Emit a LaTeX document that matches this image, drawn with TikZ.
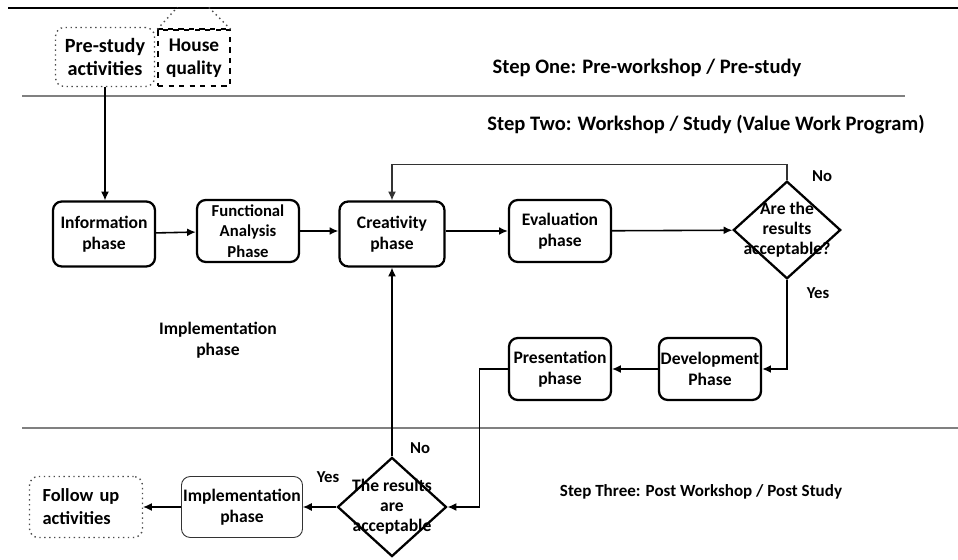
\documentclass[tikz,border=0pt]{standalone}
\usepackage{fontspec}
\setmainfont{Carlito}
\usetikzlibrary{shapes.geometric,arrows.meta,positioning}

\tikzset{
  phase/.style={draw, line width=1.3pt, rounded corners=5pt, align=center,
    minimum width=2.04cm, minimum height=1.3cm, inner sep=1pt,
    font=\fontsize{10}{12}\selectfont\bfseries},
  thinphase/.style={phase, line width=0.5pt, draw=black!80},
  softbox/.style={draw=black!70, dotted, thick, rounded corners=5pt, align=center,
    minimum width=1.98cm, minimum height=1.18cm, inner sep=1pt,
    font=\fontsize{11.5}{13.5}\selectfont\bfseries},
  decision/.style={draw, line width=1.3pt, diamond, align=center, inner sep=-5.5pt,
    aspect=1.1, font=\fontsize{10}{11.5}\selectfont\bfseries},
  steptext/.style={font=\fontsize{11.7}{13.5}\selectfont\bfseries},
  answer/.style={font=\fontsize{9.5}{11}\selectfont\bfseries},
  arr/.style={-{Latex[length=5pt,width=4.5pt]}, line width=0.9pt},
  thinarr/.style={-{Latex[length=5pt,width=4.5pt]}, line width=0.6pt}
}

\begin{document}
\begin{tikzpicture}[x=0.02cm,y=-0.02cm]
\useasboundingbox (0,0) rectangle (958,560);

% Linee di separazione
\draw[line width=1.5pt] (8,8) -- (958,8);
\draw[gray, line width=0.8pt] (22,96) -- (905,96);
\draw[gray, line width=0.8pt] (22,428) -- (958,428);

% Fase uno
\node[softbox] (pre) at (105,57) {Pre-study\\activities};
\node[softbox, dashed, draw=black, rounded corners=0pt, minimum width=1.44cm,
  minimum height=1.12cm, font=\fontsize{11}{13}\selectfont\bfseries] (house)
  at (194,58) {House\\quality};
\draw[dashed, line width=1pt] (house.north west) -- (house.north east);
\draw[dotted, thick, black!70] (house.north west) -- ++(20,-22);
\draw[dotted, thick, black!70] (house.north east) -- ++(-22,-22);

% Titoli dei passi
\node[steptext] (one) at (647,68) {Step One: Pre-workshop / Pre-study};
\node[steptext] (two) at (706,125) {Step Two: Workshop / Study (Value Work Program)};
\node[steptext, font=\fontsize{9.7}{11}\selectfont\bfseries] (three) at (701,492)
  {Step Three: Post Workshop / Post Study};

% Fase due
\node[phase] (info) at (104,234) {Information\\phase};
\node[phase, minimum height=1.24cm, font=\fontsize{9.5}{11.5}\selectfont\bfseries]
  (func) at (248,231) {Functional\\Analysis\\Phase};
\node[phase, minimum width=2.1cm] (crea) at (392,234) {Creativity\\phase};
\node[phase, minimum height=1.24cm] (eval) at (560,231) {Evaluation\\phase};
\node[decision] (res) at (787,230) {Are the\\results\\acceptable?};
\node[phase, minimum height=1.24cm] (dev) at (710,369) {Development\\Phase};
\node[phase, minimum height=1.24cm] (pres) at (560,369) {Presentation\\phase};
\node[steptext, font=\fontsize{10}{12}\selectfont\bfseries, align=center]
  (implnote) at (218,340) {Implementation\\phase};

% Fase tre
\node[decision, inner sep=-4.3pt] (res2) at (392,507) {The results\\are\\acceptable};
\node[thinphase, minimum width=2.24cm, minimum height=1.22cm] (impl) at (242,507)
  {Implementation\\phase};
\node[softbox, align=left, text width=1.74cm, inner xsep=7.4pt, minimum height=1.22cm,
  font=\fontsize{10.5}{13}\selectfont\bfseries] (follow) at (86,507)
  {Follow up\\activities};

% Risposte
\node[answer] (no1) at (822,176) {No};
\node[answer] (yes1) at (818,293) {Yes};
\node[answer] (no2) at (420,448) {No};
\node[answer] (yes2) at (328,477) {Yes};

% Frecce
\draw[thinarr] (pre.south) -- (pre.south |- info.north);
\draw[arr] (info) -- (func);
\draw[arr] (func) -- (func -| crea.west);
\draw[arr] (crea.east |- eval) -- (eval);
\draw[arr] (eval) -- (res);
\draw[thinarr, black!80] (res.north) -- ++(0,-16) -| (crea.north);
\draw[arr] (res.south) |- (dev.east);
\draw[thinarr] (dev) -- (pres);
\draw[thinarr] (pres.west) -- ++(-28,0) |- (res2.east);
\draw[thinarr] (res2.north) -- (crea.south);
\draw[thinarr] (res2) -- (impl);
\draw[thinarr] (impl) -- (follow);
\end{tikzpicture}
\end{document}
